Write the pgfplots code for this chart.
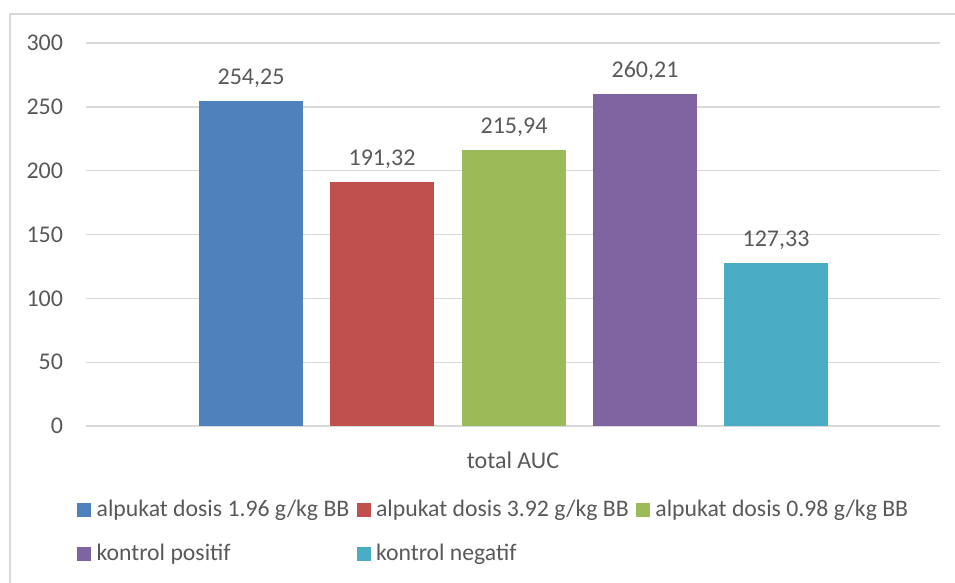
\documentclass[border=0pt]{standalone}
\usepackage{pgfplots}
\pgfplotsset{compat=1.18}
\usepackage{fontspec}
\setmainfont{Carlito}
\definecolor{c1}{HTML}{4F81BD}
\definecolor{c2}{HTML}{C0504D}
\definecolor{c3}{HTML}{9BBB59}
\definecolor{c4}{HTML}{8064A2}
\definecolor{c5}{HTML}{4BACC6}
\definecolor{txt}{HTML}{595959}
\definecolor{gridc}{HTML}{D9D9D9}
\begin{document}
\fontsize{18}{21}\selectfont
\begin{tikzpicture}
\begin{axis}[
  at={(64.5pt,117pt)}, anchor=south west,
  scale only axis, width=640.5pt, height=287.25pt,
  xmin=86, xmax=940, ymin=0, ymax=300,
  ytick={0,50,100,150,200,250,300},
  xtick={513}, xticklabels={total AUC},
  ymajorgrids, grid style={gridc, line width=1pt},
  axis line style={draw=none}, major tick length=0pt,
  tick label style={font=\fontsize{18}{21}\selectfont, text=txt},
  /pgf/number format/assume math mode=true,
  yticklabel style={xshift=-11pt},
  xticklabel style={yshift=-13pt},
  ybar, bar width=78pt,
  nodes near coords, point meta=explicit symbolic,
  every node near coord/.append style={font=\fontsize{18}{21}\selectfont, text=txt, yshift=4pt},
  legend columns=3,
  legend image code/.code={\fill[#1] (0pt,-5.25pt) rectangle (10.5pt,5.25pt); \path (14.5pt,0pt);},
  legend style={at={(axis description cs:-0.0105,-0.192)}, anchor=north west,
    draw=none, fill=none, font=\fontsize{17.8}{21}\selectfont, text=txt,
    nodes={inner sep=0pt},
    /tikz/every even column/.append style={column sep=5.5pt},
    row sep=18pt, inner sep=0pt},
  legend cell align=left,
]
\addplot[fill=c1, draw=none, bar shift=0pt] coordinates {(251,254.25) [254,25]};
\addplot[fill=c2, draw=none, bar shift=0pt] coordinates {(382,191.32) [191,32]};
\addplot[fill=c3, draw=none, bar shift=0pt] coordinates {(514,215.94) [215,94]};
\addplot[fill=c4, draw=none, bar shift=0pt] coordinates {(645,260.21) [260,21]};
\addplot[fill=c5, draw=none, bar shift=0pt] coordinates {(776,127.33) [127,33]};
\legend{alpukat dosis 1.96 g/kg BB, alpukat dosis 3.92 g/kg BB, alpukat dosis 0.98 g/kg BB, kontrol positif, kontrol negatif}
\end{axis}
\draw[gridc, line width=1.1pt] (7.5pt,-20pt) |- (760pt,426pt);
\pgfresetboundingbox
\useasboundingbox (0,0) rectangle (716.25pt,436.5pt);
\end{tikzpicture}
\end{document}
